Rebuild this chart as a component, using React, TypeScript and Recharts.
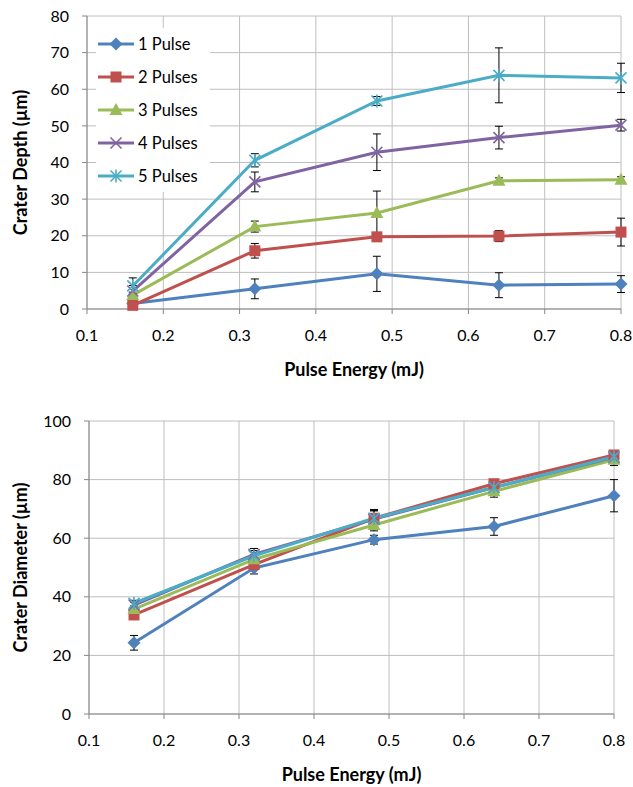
import React from "react";
import {
  CartesianGrid,
  ErrorBar,
  Line,
  LineChart,
  XAxis,
  YAxis,
} from "recharts";

// pulse energy (mJ)
const energy = [0.16, 0.32, 0.48, 0.64, 0.8];

// crater depth (µm) per pulse count, with error bars
const depth1 = [1.5, 5.5, 9.6, 6.5, 6.8];
const depth2 = [1.0, 15.9, 19.7, 19.9, 21.0];
const depth3 = [3.8, 22.5, 26.2, 35.0, 35.3];
const depth4 = [4.9, 34.7, 42.8, 46.8, 50.2];
const depth5 = [6.3, 40.6, 56.8, 63.8, 63.1];
const depthErr1 = [0.5, 2.7, 4.8, 3.4, 2.3];
const depthErr2 = [0.5, 2.0, 0.8, 1.5, 3.8];
const depthErr3 = [0.8, 1.5, 6.0, 0.8, 0.8];
const depthErr4 = [1.5, 2.7, 5.0, 3.1, 1.6];
const depthErr5 = [2.2, 1.8, 1.2, 7.5, 4.0];

// crater diameter (µm)
const dia1 = [24.3, 49.8, 59.5, 64.0, 74.5];
const dia2 = [33.8, 51.0, 66.8, 78.6, 88.4];
const dia3 = [35.8, 52.8, 64.5, 76.0, 86.8];
const dia4 = [37.2, 54.5, 66.5, 77.3, 87.6];
const dia5 = [37.8, 54.0, 66.8, 77.3, 87.8];
const diaErr1 = [2.5, 2.0, 1.5, 3.0, 5.5];
const diaErr2 = [1.0, 1.5, 2.5, 1.0, 1.0];
const diaErr3 = [1.0, 1.5, 2.0, 2.0, 2.0];
const diaErr4 = [1.0, 2.0, 3.0, 1.0, 1.0];
const diaErr5 = [1.0, 1.8, 3.0, 1.0, 1.0];

const seriesNames = ["1 Pulse", "2 Pulses", "3 Pulses", "4 Pulses", "5 Pulses"];
const colors = ["#4F81BD", "#C0504D", "#9BBB59", "#8064A2", "#4BACC6"];
const shapes = ["diamond", "square", "triangle", "cross", "star"];

const xTicks = [0.1, 0.2, 0.3, 0.4, 0.5, 0.6, 0.7, 0.8];
const depthTicks = [0, 10, 20, 30, 40, 50, 60, 70, 80];
const diaTicks = [0, 20, 40, 60, 80, 100];

const FONT = "Lato, 'Open Sans', sans-serif";
const AXIS = "#868686";
const GRID = "#BEBEBE";

const depthData = energy.map((x, i) => ({
  x,
  s0: depth1[i], s1: depth2[i], s2: depth3[i], s3: depth4[i], s4: depth5[i],
  e0: depthErr1[i], e1: depthErr2[i], e2: depthErr3[i], e3: depthErr4[i], e4: depthErr5[i],
}));

const diaData = energy.map((x, i) => ({
  x,
  s0: dia1[i], s1: dia2[i], s2: dia3[i], s3: dia4[i], s4: dia5[i],
  e0: diaErr1[i], e1: diaErr2[i], e2: diaErr3[i], e3: diaErr4[i], e4: diaErr5[i],
}));

function Marker({ shape, cx, cy, color }: { shape: string; cx: number; cy: number; color: string }) {
  if (shape === "diamond") {
    const r = 6.5;
    return <polygon points={`${cx},${cy - r} ${cx + r},${cy} ${cx},${cy + r} ${cx - r},${cy}`} fill={color} />;
  }
  if (shape === "square") {
    return <rect x={cx - 5.5} y={cy - 5.5} width={11} height={11} fill={color} />;
  }
  if (shape === "triangle") {
    return <polygon points={`${cx},${cy - 7} ${cx + 6.5},${cy + 5} ${cx - 6.5},${cy + 5}`} fill={color} />;
  }
  const r = 5.5;
  return (
    <g stroke={color} strokeWidth={1.6}>
      <line x1={cx - r} y1={cy - r} x2={cx + r} y2={cy + r} />
      <line x1={cx - r} y1={cy + r} x2={cx + r} y2={cy - r} />
      {shape === "star" && <line x1={cx} y1={cy - r - 1} x2={cx} y2={cy + r + 1} />}
    </g>
  );
}

const YTitle = (props: any) => {
  const { viewBox, text } = props;
  const cy = viewBox.y + viewBox.height / 2;
  return (
    <text
      x={20}
      y={cy}
      transform={`rotate(-90, 20, ${cy})`}
      textAnchor="middle"
      dominantBaseline="central"
      fontFamily={FONT}
      fontWeight="bold"
      fontSize={18}
      fill="#000"
    >
      {text}
    </text>
  );
};

const XTitle = (props: any) => {
  const { viewBox, text } = props;
  const cx = viewBox.x + viewBox.width / 2;
  return (
    <text
      x={cx}
      y={viewBox.y + 60}
      textAnchor="middle"
      dominantBaseline="central"
      fontFamily={FONT}
      fontWeight="bold"
      fontSize={18}
      fill="#000"
    >
      {text}
    </text>
  );
};

// legend drawn as an overlay so it doesn't steal plot space
const LegendBox = () => (
  <div
    style={{
      position: "absolute",
      left: 96,
      top: 28,
      width: 114,
      fontFamily: FONT,
      fontSize: 16.5,
      color: "#000",
      background: "#fff",
      pointerEvents: "none",
      whiteSpace: "nowrap",
    }}
  >
    {seriesNames.map((name, i) => (
      <div key={name} style={{ display: "flex", alignItems: "center", height: 32.8 }}>
        <svg width={40} height={16} style={{ display: "block", flex: "none" }}>
          <line x1={2} y1={8} x2={38} y2={8} stroke={colors[i]} strokeWidth={3} />
          <Marker shape={shapes[i]} cx={20} cy={8} color={colors[i]} />
        </svg>
        <span style={{ marginLeft: 2 }}>{name}</span>
      </div>
    ))}
  </div>
);

const tickStyle = { fontFamily: FONT, fontSize: 16, fill: "#000" };

function renderLines(prefix: string) {
  return seriesNames.map((name, i) => (
    <Line
      key={`${prefix}-${i}`}
      dataKey={`s${i}`}
      name={name}
      stroke={colors[i]}
      strokeWidth={3}
      isAnimationActive={false}
      dot={(p: any) => (
        <Marker key={`${prefix}-${i}-${p.index}`} shape={shapes[i]} cx={p.cx} cy={p.cy} color={colors[i]} />
      )}
      activeDot={false}
    >
      <ErrorBar dataKey={`e${i}`} width={4} stroke="#000" strokeWidth={1} direction="y" isAnimationActive={false} />
    </Line>
  ));
}

export default function App() {
  return (
    <div style={{ position: "absolute", left: 0, top: 0, width: 633, height: 787, background: "#fff" }}>
      <div style={{ position: "relative", width: 633, height: 390 }}>
        <LineChart width={633} height={390} data={depthData} margin={{ top: 16, right: 12, bottom: 16, left: 0 }}>
          <CartesianGrid stroke={GRID} strokeWidth={1} />
          <XAxis
            dataKey="x"
            type="number"
            domain={[0.1, 0.8]}
            ticks={xTicks}
            height={65}
            tick={tickStyle}
            tickSize={5}
            tickMargin={16}
            axisLine={{ stroke: AXIS }}
            tickLine={{ stroke: AXIS }}
            label={<XTitle text="Pulse Energy (mJ)" />}
          />
          <YAxis
            type="number"
            domain={[0, 80]}
            ticks={depthTicks}
            width={87}
            tick={tickStyle}
            tickSize={5}
            tickMargin={13}
            axisLine={{ stroke: AXIS }}
            tickLine={{ stroke: AXIS }}
            label={<YTitle text="Crater Depth (µm)" />}
          />
          {renderLines("d")}
        </LineChart>
        <LegendBox />
      </div>
      <LineChart width={633} height={397} data={diaData} margin={{ top: 31, right: 19, bottom: 8, left: 0 }}>
        <CartesianGrid stroke={GRID} strokeWidth={1} />
        <XAxis
          dataKey="x"
          type="number"
          domain={[0.1, 0.8]}
          ticks={xTicks}
          height={65}
          tick={tickStyle}
          tickSize={5}
          tickMargin={16}
          axisLine={{ stroke: AXIS }}
          tickLine={{ stroke: AXIS }}
          label={<XTitle text="Pulse Energy (mJ)" />}
        />
        <YAxis
          type="number"
          domain={[0, 100]}
          ticks={diaTicks}
          width={89}
          tick={tickStyle}
          tickSize={5}
          tickMargin={13}
          axisLine={{ stroke: AXIS }}
          tickLine={{ stroke: AXIS }}
          label={<YTitle text="Crater Diameter (µm)" />}
        />
        {renderLines("m")}
      </LineChart>
    </div>
  );
}
